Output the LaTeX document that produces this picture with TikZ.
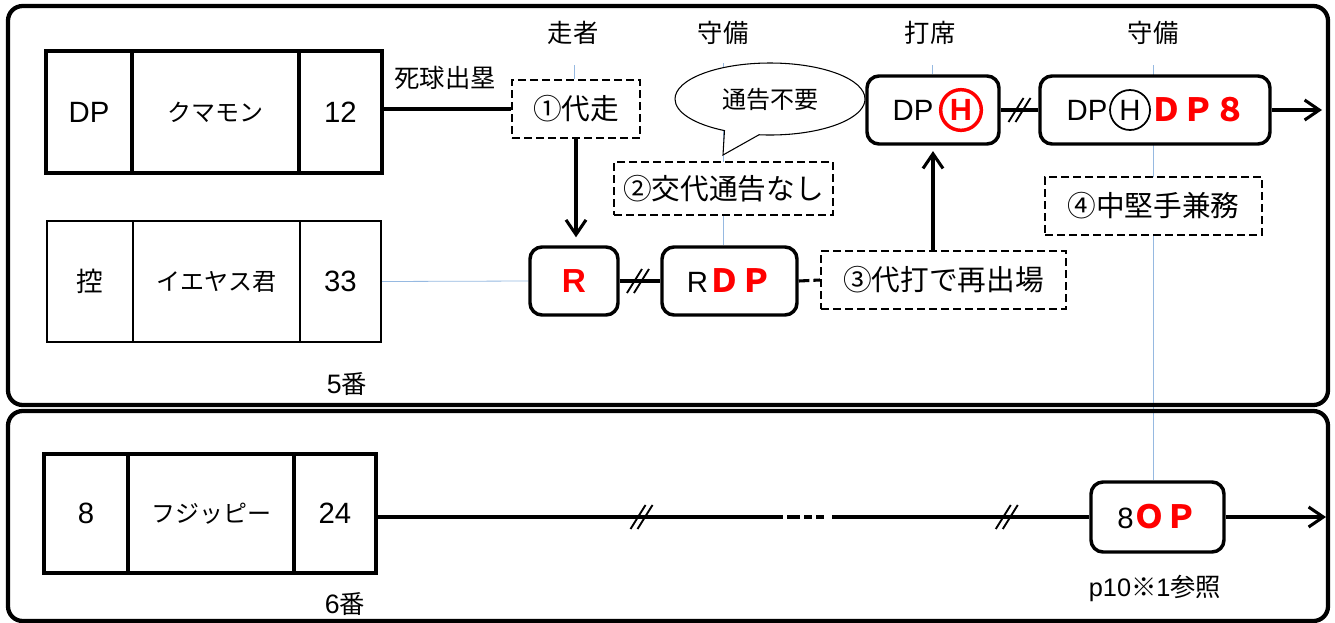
\documentclass[tikz,border=0pt]{standalone}
\usepackage{fontspec}
\setmainfont{Liberation Sans}
\newfontfamily\jp{Noto Sans CJK JP}
\usetikzlibrary{arrows.meta,shapes.callouts,shapes.geometric,calc,backgrounds}
\definecolor{guideblue}{RGB}{150,185,225}
\newcommand\fsz[1]{\fontsize{#1}{#1}\selectfont}
\newcommand\redb[1]{{\jp\bfseries\fsz{24}\color{red}#1}}
\begin{document}
\begin{tikzpicture}[x=0.75pt,y=-0.75pt,
  conn/.style={line width=2.3pt},
  arr/.style={conn,-{Straight Barb[length=11pt,width=15pt]}},
  guide/.style={draw=guideblue,line width=0.6pt},
  cell/.style={draw,rectangle,inner sep=0pt,line width=2.4pt,fill=white},
  thincell/.style={cell,line width=1.5pt},
  rbox/.style={draw,rectangle,rounded corners=9pt,line width=2.6pt,fill=white,inner sep=0pt,font=\fsz{22}},
  dbox/.style={draw,rectangle,dash pattern=on 6pt off 3pt,line width=1.7pt,fill=white,inner sep=0pt,font=\jp\fsz{21.5}},
  head/.style={font=\jp\fsz{19}},
  panel/.style={line width=3.2pt,rounded corners=11pt},
  dslash/.pic={\draw[line width=1.4pt] (-11,12) -- (4,-12) (-4,12) -- (11,-12);}
]
\useasboundingbox (0,0) rectangle (1335,622);

% panels
\draw[panel] (8,6) rectangle (1328,405);
\draw[panel] (8,411) rectangle (1328,621);

% headers
\node[head] (h1) at (573,33) {走者};
\node[head] (h2) at (723,33) {守備};
\node[head] (h3) at (930,33) {打席};
\node[head] (h4) at (1153,33) {守備};
\coordinate (g1) at (574,65);
\coordinate (g2) at (723,63);
\coordinate (g3) at (932,65);
\coordinate (g4) at (1153,65);

% row 1
\node[cell,minimum width=64.5pt,minimum height=91.5pt,font=\fsz{22}] (r1a) at (89,112) {DP};
\node[cell,minimum width=125.25pt,minimum height=91.5pt,font=\jp\fsz{18}] (r1b) at (215.5,112) {クマモン};
\node[cell,minimum width=62.25pt,minimum height=91.5pt,font=\fsz{22}] (r1c) at (340.5,112) {12};
% row 2
\node[thincell,minimum width=64.5pt,minimum height=90.75pt,font=\jp\fsz{20}] (r2a) at (90,281.5) {控};
\node[thincell,minimum width=125.25pt,minimum height=90.75pt,font=\jp\fsz{18}] (r2b) at (216.5,281.5) {イエヤス君};
\node[thincell,minimum width=60.75pt,minimum height=90.75pt,font=\fsz{22}] (r2c) at (340.5,281.5) {33};
\node[font=\fsz{20}] (n5) at (347,384) {5{\jp\fsz{19}番}};
% row 3
\node[cell,minimum width=63pt,minimum height=89.25pt,font=\fsz{22}] (r3a) at (86,513.5) {8};
\node[cell,minimum width=124.5pt,minimum height=89.25pt,font=\jp\fsz{18}] (r3b) at (211,513.5) {フジッピー};
\node[cell,minimum width=61.5pt,minimum height=89.25pt,font=\fsz{22}] (r3c) at (335,513.5) {24};
\node[font=\fsz{20}] (n6) at (345,604) {6{\jp\fsz{19}番}};

% labels
\node[font=\jp\fsz{19}] (lbl) at (445,78) {死球出塁};
\node[ellipse callout,draw,line width=0.8pt,fill=white,minimum width=142.5pt,minimum height=54pt,
  callout absolute pointer={(723,155)},callout pointer arc=22,font=\jp\fsz{18}] (bal) at (770,99) {通告不要};

% dashed boxes
\node[dbox,minimum width=96pt,minimum height=43.5pt] (b1) at (576,109) {①代走};
\node[dbox,minimum width=164.25pt,minimum height=39.75pt] (b2) at (723.5,188.5) {②交代通告なし};
\node[dbox,minimum width=183.75pt,minimum height=43.5pt] (b3) at (943.5,280) {③代打で再出場};
\node[dbox,minimum width=162.75pt,minimum height=43.5pt] (b4) at (1153.5,206) {④中堅手兼務};

% rounded boxes
\node[rbox,minimum width=66pt,minimum height=51pt,font=\bfseries\fsz{25},text=red] (rb) at (574,281) {R};
\node[rbox,minimum width=101.25pt,minimum height=51pt] (rdp) at (729.5,281) {R\redb{ＤＰ}};
\node[rbox,minimum width=99pt,minimum height=51pt] (dph) at (933,110) {};
\node[font=\fsz{22}] (dpa) at (913,110) {DP};
\node[circle,draw=red,line width=2.6pt,minimum size=30.5pt,inner sep=0pt,text=red,font=\bfseries\fsz{23}] (hc1) at (961,110) {H};
\node[rbox,minimum width=172.5pt,minimum height=51pt] (dp8) at (1155,110) {};
\node[font=\fsz{22}] (dpb) at (1087,110) {DP};
\node[circle,draw,line width=1.3pt,minimum size=30pt,inner sep=0pt,font=\fsz{22}] (hc2) at (1130,110) {H};
\node (dp8t) at (1198,110) {\redb{ＤＰ８}};
\node[rbox,minimum width=99.75pt,minimum height=52.5pt] (op) at (1157.5,517) {8\redb{ＯＰ}};
\node[font=\fsz{19}] (ref) at (1155,588) {p10{\jp ※}1{\jp 参照}};

% connectors
\draw[conn] (b1.west -| r1c.east) -- (b1.west);
\draw[arr,shorten >=6pt] (b1.south) -- (b1.south |- rb.north);
\draw[conn] (rb.east) -- (rdp.west);
\pic at ($(rb.east)!0.45!(rdp.west)$) {dslash};
\draw[conn,dash pattern=on 8pt off 3pt] (rdp.east) -- (b3.west);
\draw[arr,shorten >=4pt] (b3.north -| dph.south) -- (dph.south);
\draw[conn] (dph.east) -- (dp8.west);
\pic at ($(dph.east)!0.5!(dp8.west)$) {dslash};
\coordinate (e1) at (1322,110);
\draw[arr] (dp8.east) -- (e1);
\coordinate (d1) at (783,517);
\coordinate (d2) at (843,517);
\coordinate (e2) at (1326,517);
\draw[conn] (r3c.east |- op.west) -- (d1);
\draw[conn,dash pattern=on 0pt off 3pt on 10pt off 3pt on 6pt off 3pt on 6pt off 3pt] (d1) -- (d2);
\draw[conn] (d2) -- (op.west);
\pic at ($(r3c.east |- op.west)!0.651!(d1)$) {dslash};
\pic at ($(d2)!0.665!(op.west)$) {dslash};
\draw[arr] (op.east) -- (e2);

% guides
\begin{scope}[on background layer]
\fill[white] (0,0) rectangle (1335,622);
\draw[guide] (g1) -- (g1 |- b1.north);
\draw[guide] (g2) -- (g2 |- rdp.north);
\draw[guide] (g3) -- (g3 |- dph.north);
\draw[guide] (g4) -- (g4 |- op.north);
\draw[guide] (r2c.east) -- (rb.west);
\end{scope}
\end{tikzpicture}
\end{document}
